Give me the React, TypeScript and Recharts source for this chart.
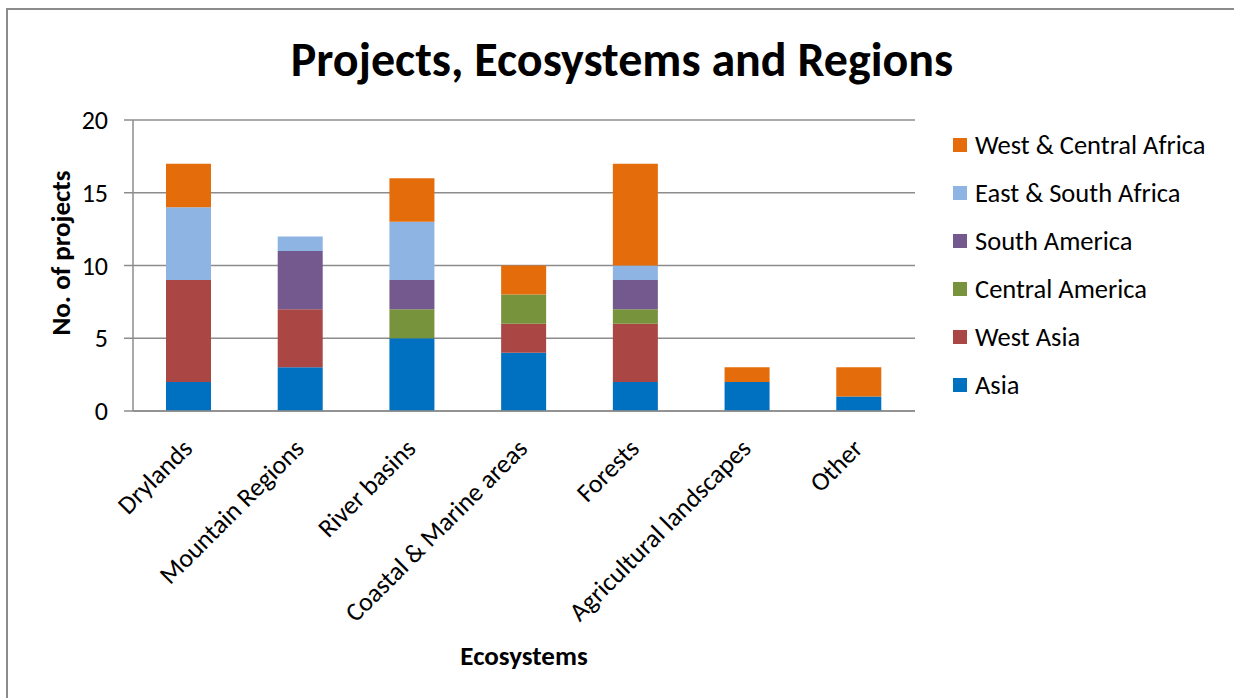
import { BarChart, Bar, XAxis, YAxis, CartesianGrid } from "recharts"

const categories = [
  "Drylands",
  "Mountain Regions",
  "River basins",
  "Coastal & Marine areas",
  "Forests",
  "Agricultural landscapes",
  "Other",
]

const asia = [2, 3, 5, 4, 2, 2, 1]
const westAsia = [7, 4, 0, 2, 4, 0, 0]
const centralAmerica = [0, 0, 2, 2, 1, 0, 0]
const southAmerica = [0, 4, 2, 0, 2, 0, 0]
const eastSouthAfrica = [5, 1, 4, 0, 1, 0, 0]
const westCentralAfrica = [3, 0, 3, 2, 7, 1, 2]

const yTicks = [0, 5, 10, 15, 20]

const series = [
  { key: "asia", name: "Asia", values: asia, color: "#0070c0" },
  { key: "westAsia", name: "West Asia", values: westAsia, color: "#aa4644" },
  { key: "centralAmerica", name: "Central America", values: centralAmerica, color: "#77933c" },
  { key: "southAmerica", name: "South America", values: southAmerica, color: "#74598f" },
  { key: "eastSouthAfrica", name: "East & South Africa", values: eastSouthAfrica, color: "#8eb4e3" },
  { key: "westCentralAfrica", name: "West & Central Africa", values: westCentralAfrica, color: "#e46c0a" },
]

const data = categories.map((name, i) => {
  const row: Record<string, string | number> = { name, idx: i + 0.5 }
  series.forEach((s) => {
    row[s.key] = s.values[i]
  })
  return row
})

const FONT = "Carlito, Lato, 'Noto Sans', sans-serif"
const GRAY = "#8c8c8c"

const CategoryTick = (props: any) => {
  const { x, y, payload } = props
  return (
    <text
      x={x + 5}
      y={y + 31}
      transform={`rotate(-45 ${x + 5} ${y + 31})`}
      textAnchor="end"
      fontSize={26}
      fontFamily={FONT}
      fill="#000"
    >
      {payload.value}
    </text>
  )
}

const App = () => {
  return (
    <div style={{ position: "absolute", left: 0, top: 0, width: 1234, height: 698, background: "#fff", overflow: "hidden" }}>
      <div
        style={{
          position: "absolute",
          left: 6,
          top: 8,
          width: 1228,
          height: 690,
          borderLeft: `2px solid ${GRAY}`,
          borderTop: `2px solid ${GRAY}`,
          boxSizing: "border-box",
        }}
      />
      <div
        style={{
          position: "absolute",
          left: 0,
          width: 1244,
          top: 30,
          textAlign: "center",
          fontFamily: FONT,
          fontWeight: "bold",
          fontSize: 48,
          color: "#000",
        }}
      >
        Projects, Ecosystems and Regions
      </div>
      <div
        style={{
          position: "absolute",
          left: 60,
          top: 253,
          transform: "translate(-50%, -50%) rotate(-90deg)",
          whiteSpace: "nowrap",
          fontFamily: FONT,
          fontWeight: "bold",
          fontSize: 27,
          color: "#000",
        }}
      >
        No. of projects
      </div>
      <div
        style={{
          position: "absolute",
          left: 524,
          top: 655,
          transform: "translate(-50%, -50%)",
          whiteSpace: "nowrap",
          fontFamily: FONT,
          fontWeight: "bold",
          fontSize: 27,
          color: "#000",
        }}
      >
        Ecosystems
      </div>
      <div style={{ position: "absolute", left: 0, top: 0 }}>
        <BarChart
          width={1234}
          height={698}
          data={data}
          margin={{ top: 120, right: 319, left: 73, bottom: 137 }}
          barSize={45}
        >
          <CartesianGrid vertical={false} stroke={GRAY} strokeWidth={1.5} />
          <XAxis
            xAxisId="bounds"
            type="number"
            dataKey="idx"
            domain={[0, 7]}
            ticks={[0, 1, 2, 3, 4, 5, 6, 7]}
            tick={false}
            tickSize={7}
            tickLine={{ stroke: GRAY, strokeWidth: 1.5 }}
            axisLine={false}
            height={0}
          />
          <XAxis
            dataKey="name"
            interval={0}
            height={150}
            tick={<CategoryTick />}
            tickLine={false}
            axisLine={{ stroke: GRAY, strokeWidth: 1.5 }}
          />
          <YAxis
            width={60}
            domain={[0, 20]}
            ticks={yTicks}
            interval={0}
            tickSize={9}
            tickMargin={16}
            tick={{ fill: "#000", fontSize: 26, fontFamily: FONT }}
            tickLine={{ stroke: GRAY, strokeWidth: 1.5 }}
            axisLine={{ stroke: GRAY, strokeWidth: 1.5 }}
          />
          {series.map((s) => (
            <Bar
              key={s.key}
              dataKey={s.key}
              name={s.name}
              stackId="a"
              fill={s.color}
              isAnimationActive={false}
            />
          ))}
        </BarChart>
      </div>
      <div style={{ position: "absolute", left: 953, top: 121 }}>
        {[...series].reverse().map((s) => (
          <div
            key={s.key}
            style={{ display: "flex", alignItems: "center", height: 48, fontFamily: FONT, fontSize: 26.5, color: "#000", whiteSpace: "nowrap" }}
          >
            <span style={{ display: "inline-block", width: 14, height: 14, background: s.color, marginRight: 8 }} />
            {s.name}
          </div>
        ))}
      </div>
    </div>
  )
}

export default App
